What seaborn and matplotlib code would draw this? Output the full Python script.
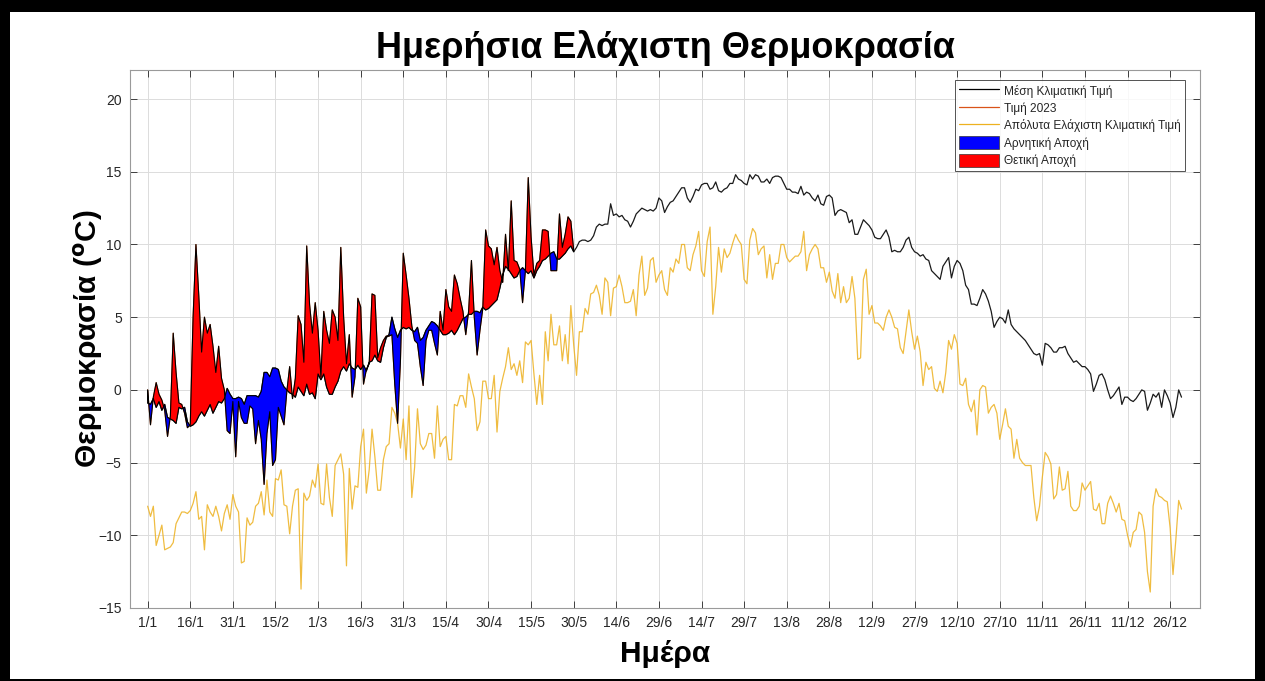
import numpy as np
import pandas as pd
import seaborn as sns
import matplotlib
matplotlib.use('Agg')
import matplotlib.pyplot as plt
from matplotlib.patches import Patch, Rectangle
from matplotlib.lines import Line2D

# climatological mean of daily minimum (day 1..365)
mean_clim = [
    -0.9, -1.0, -0.6, -1.2, -0.8, -1.4, -1.0, -1.9, -2.0, -2.1,
    -2.3, -1.2, -1.3, -1.2, -2.2, -2.5, -2.4, -2.2, -1.8, -1.5,
    -1.8, -1.4, -1.0, -1.6, -1.2, -0.8, -0.9, -0.6, 0.1, -0.3,
    -0.6, -0.6, -0.5, -0.6, -1.0, -0.4, -0.4, -0.4, -0.4, -0.5,
    -0.1, 1.2, 1.2, 0.9, 1.5, 1.5, 1.4, 0.6, 0.2, 0.0,
    -0.2, -0.3, -0.5, 0.2, -0.1, -0.4, 0.4, -0.3, -0.2, -0.6,
    1.1, 0.7, 1.1, 0.2, -0.3, -0.3, 0.2, 0.6, 1.3, 1.6,
    1.3, 1.8, 1.5, 1.4, 1.7, 1.4, 1.7, 1.3, 1.9, 2.0,
    2.4, 2.0, 1.9, 2.9, 3.6, 3.8, 5.0, 4.2, 3.6, 4.1,
    4.3, 4.2, 4.3, 4.1, 4.0, 4.3, 3.4, 3.6, 4.1, 4.4,
    4.7, 4.6, 4.4, 4.1, 3.8, 3.8, 3.9, 4.1, 3.8, 4.1,
    4.5, 4.9, 5.0, 5.2, 5.2, 5.4, 5.4, 5.3, 5.7, 5.5,
    5.6, 5.8, 6.0, 6.2, 7.0, 7.9, 8.5, 8.3, 8.0, 7.7,
    7.8, 8.2, 8.4, 8.2, 8.0, 8.2, 7.7, 8.2, 8.5, 8.9,
    9.0, 9.2, 9.4, 9.5, 9.0, 9.0, 9.2, 9.4, 9.7, 9.9,
    9.5, 9.8, 10.2, 10.3, 10.3, 10.2, 10.3, 10.6, 11.2, 11.4,
    11.3, 11.4, 11.4, 12.8, 12.0, 12.1, 11.9, 12.0, 11.7, 11.6,
    11.2, 11.6, 12.1, 12.3, 12.5, 12.4, 12.3, 12.4, 12.3, 12.5,
    13.2, 13.0, 12.2, 12.6, 12.9, 13.0, 13.3, 13.6, 13.9, 13.9,
    13.2, 12.9, 13.3, 13.8, 13.7, 14.1, 14.2, 14.2, 13.8, 13.9,
    14.3, 13.7, 13.6, 13.8, 13.9, 14.2, 14.2, 14.8, 14.5, 14.4,
    14.2, 14.1, 14.8, 14.5, 14.8, 14.7, 14.3, 14.3, 14.5, 14.2,
    14.6, 14.7, 14.7, 14.6, 14.2, 13.8, 13.8, 13.6, 13.6, 13.5,
    14.0, 13.4, 13.6, 13.5, 13.2, 13.0, 13.4, 12.8, 12.7, 13.3,
    13.4, 13.2, 12.0, 12.3, 12.4, 12.3, 12.2, 11.5, 11.7, 10.7,
    10.7, 11.2, 11.7, 11.5, 11.3, 11.0, 10.5, 10.4, 10.4, 10.7,
    11.0, 10.5, 9.5, 9.6, 9.5, 9.5, 9.8, 10.3, 10.5, 9.8,
    9.5, 9.4, 9.2, 9.3, 9.0, 8.9, 8.2, 8.0, 7.8, 7.6,
    8.5, 8.8, 9.1, 7.7, 8.5, 8.9, 8.7, 8.2, 7.2, 6.9,
    5.9, 5.9, 5.8, 6.3, 6.9, 6.6, 6.1, 5.4, 4.3, 4.7,
    5.0, 4.9, 4.6, 5.5, 4.5, 4.2, 4.0, 3.8, 3.6, 3.4,
    3.1, 2.8, 2.5, 2.4, 2.5, 1.7, 3.2, 3.1, 2.9, 2.6,
    2.6, 2.9, 2.9, 3.0, 2.5, 2.2, 1.9, 2.0, 1.8, 1.6,
    1.6, 1.4, 1.1, -0.1, 0.4, 1.0, 1.1, 0.7, 0.0, -0.6,
    -0.4, -0.1, 0.2, -1.0, -0.5, -0.5, -0.7, -0.8, -0.6, -0.3,
    0.0, -0.1, -1.4, -0.9, -0.3, -0.5, -0.2, -1.2, 0.0, -0.4,
    -0.9, -1.9, -1.2, 0.0, -0.5,
]

# absolute climatological minimum (day 1..365)
abs_min = [
    -8.0, -8.7, -8.0, -10.7, -10.0, -9.3, -11.0, -10.9, -10.8, -10.5,
    -9.2, -8.8, -8.4, -8.4, -8.5, -8.3, -7.8, -7.0, -8.9, -8.7,
    -11.0, -7.9, -8.4, -8.7, -8.0, -8.7, -9.7, -8.5, -7.9, -8.9,
    -7.2, -8.0, -8.4, -11.9, -11.8, -8.8, -9.3, -9.1, -8.0, -7.8,
    -7.0, -8.6, -6.2, -8.4, -8.7, -6.1, -6.2, -5.5, -7.9, -8.0,
    -9.9, -8.0, -6.9, -6.8, -13.7, -7.1, -7.6, -7.3, -6.2, -6.7,
    -5.1, -7.8, -7.9, -5.1, -7.4, -8.7, -5.2, -4.8, -4.4, -5.8,
    -12.1, -5.4, -8.2, -6.6, -6.7, -3.9, -2.7, -7.1, -5.5, -2.7,
    -4.6, -6.9, -6.9, -4.8, -3.9, -3.7, -1.2, -1.6, -2.3, -4.0,
    -2.0, -4.8, -1.1, -7.4, -5.3, -1.3, -3.7, -4.1, -3.8, -3.0,
    -3.0, -4.7, -1.1, -3.9, -3.4, -3.2, -4.8, -4.8, -1.0, -1.1,
    -0.4, -0.4, -1.2, 1.1, 0.2, -0.6, -2.8, -2.2, 0.6, 0.6,
    -0.6, -0.6, 1.0, -2.9, -0.1, 0.8, 1.6, 2.9, 1.4, 1.8,
    1.0, 2.0, 0.5, 3.3, 3.1, 3.4, 1.1, -1.0, 1.0, -1.0,
    4.0, 2.0, 5.2, 3.1, 3.1, 4.4, 2.0, 3.8, 1.8, 5.8,
    3.1, 1.0, 4.0, 4.0, 5.6, 5.2, 6.6, 6.7, 7.2, 6.5,
    5.2, 7.7, 7.4, 5.1, 7.0, 7.1, 7.9, 7.1, 6.0, 6.0,
    6.1, 6.9, 5.1, 7.9, 9.2, 6.5, 7.0, 8.9, 9.1, 7.4,
    7.9, 8.2, 6.9, 6.5, 8.4, 8.1, 9.0, 8.7, 10.0, 10.0,
    8.4, 8.2, 9.3, 9.9, 10.9, 8.2, 7.8, 10.2, 11.2, 5.2,
    7.1, 9.8, 8.1, 9.7, 9.1, 9.4, 10.1, 10.7, 10.3, 10.0,
    7.6, 7.3, 10.3, 11.1, 10.8, 9.3, 9.7, 9.9, 7.7, 9.3,
    7.6, 8.7, 8.7, 10.0, 10.0, 9.1, 8.8, 9.0, 9.2, 9.2,
    9.5, 10.9, 8.2, 9.3, 9.7, 10.0, 9.7, 8.4, 8.4, 7.4,
    8.1, 6.8, 6.3, 8.0, 6.0, 7.1, 6.0, 6.3, 7.8, 6.3,
    2.1, 2.2, 7.6, 8.3, 5.2, 5.8, 4.6, 4.6, 4.4, 4.1,
    5.0, 5.5, 5.0, 4.3, 4.2, 2.9, 2.5, 4.0, 5.5, 4.0,
    2.8, 3.7, 2.6, 0.3, 1.9, 1.4, 1.6, 0.1, -0.1, 0.6,
    -0.2, 1.2, 3.4, 2.8, 3.8, 3.2, 0.4, 0.3, 0.8, -1.0,
    -1.5, -0.7, -3.1, 0.0, 0.3, 0.2, -1.6, -1.2, -1.0, -1.6,
    -3.4, -2.4, -1.3, -2.5, -2.7, -4.7, -3.4, -4.7, -5.0, -5.2,
    -5.2, -5.2, -7.4, -9.0, -8.0, -6.0, -4.3, -4.6, -5.1, -7.5,
    -7.2, -5.3, -6.9, -6.8, -5.6, -8.0, -8.3, -8.3, -8.0, -6.4,
    -6.9, -6.6, -6.3, -8.2, -8.3, -7.8, -9.2, -9.2, -7.8, -7.3,
    -7.8, -8.4, -7.8, -8.9, -9.0, -10.0, -10.8, -9.8, -9.6, -8.4,
    -8.6, -9.8, -12.5, -13.9, -8.0, -6.8, -7.3, -7.4, -7.6, -7.7,
    -9.5, -12.7, -10.3, -7.6, -8.2,
]

# 2023 daily minimum (1/1 .. 31/5)
t2023 = [
    0.0, -2.4, -0.5, 0.5, -0.3, -0.7, -1.4, -3.2, -1.8, 3.9,
    1.2, -0.9, -1.0, -1.6, -2.6, -2.4, 5.0, 10.0, 6.5, 2.6,
    5.0, 3.9, 4.5, 3.0, 1.2, 3.0, 0.8, 0.0, -2.8, -3.0,
    -0.8, -4.6, -0.8, -1.9, -2.3, -2.3, -1.1, -1.3, -3.7, -2.1,
    -3.4, -6.5, -3.0, -1.5, -5.2, -4.8, -1.2, -1.8, -2.4, -0.1,
    1.6, -0.6, 0.8, 5.1, 4.5, 1.9, 9.9, 5.9, 3.9, 6.0,
    4.1, 0.9, 5.4, 4.1, 3.2, 5.5, 5.0, 3.4, 9.8, 5.0,
    1.8, 3.8, -0.5, 0.9, 6.3, 5.7, 0.4, 1.4, 1.8, 6.6,
    6.5, 2.2, 2.9, 3.4, 3.7, 3.7, 3.8, 0.4, -2.3, 2.0,
    9.4, 7.9, 6.3, 4.4, 3.4, 3.2, 1.6, 0.3, 3.4, 4.1,
    4.1, 3.2, 2.4, 5.4, 4.1, 6.9, 5.7, 5.4, 7.9, 7.3,
    6.3, 5.4, 3.8, 5.4, 8.9, 5.0, 2.4, 4.1, 5.6, 11.0,
    9.9, 9.7, 8.6, 9.8, 8.2, 7.4, 10.7, 8.2, 13.0, 8.9,
    8.8, 8.3, 6.0, 8.2, 14.6, 10.5, 7.9, 8.7, 8.9, 11.0,
    11.0, 10.9, 8.2, 8.2, 8.2, 12.1, 9.8, 10.7, 11.9, 11.6,
    9.6,
]

tick_days = [1, 16, 31, 46, 61, 76, 91, 106, 121, 136, 151, 166, 181,
             196, 211, 226, 241, 256, 271, 286, 301, 316, 331, 346, 361]
tick_labels = ['1/1', '16/1', '31/1', '15/2', '1/3', '16/3', '31/3', '15/4',
               '30/4', '15/5', '30/5', '14/6', '29/6', '14/7', '29/7', '13/8',
               '28/8', '12/9', '27/9', '12/10', '27/10', '11/11', '26/11',
               '11/12', '26/12']

assert len(mean_clim) == 365 and len(abs_min) == 365 and len(t2023) == 151

days = np.arange(1, 366)
clim = pd.DataFrame({'day': days, 'mean': mean_clim, 'absmin': abs_min})
y23 = pd.DataFrame({'day': days[:len(t2023)], 'val': t2023})

sns.set_theme(style='ticks')
plt.rcParams['font.family'] = ['Liberation Sans', 'DejaVu Sans']

fig = plt.figure(figsize=(12.65, 6.81), dpi=100)
fig.patch.set_facecolor('white')
ax = fig.add_axes([0.1028, 0.1072, 0.8458, 0.790])

sns.lineplot(data=clim, x='day', y='absmin', color='#EDB120', lw=0.9,
             alpha=0.85, errorbar=None, ax=ax)
sns.lineplot(data=clim, x='day', y='mean', color='#1a1a1a', lw=0.9,
             errorbar=None, ax=ax)
sns.lineplot(data=y23, x='day', y='val', color='#D95319', lw=0.8,
             errorbar=None, ax=ax)

d = y23['day'].to_numpy()
t = y23['val'].to_numpy()
m = clim['mean'].to_numpy()[:len(t)]
ax.fill_between(d, t, m, where=t < m, interpolate=True, facecolor='blue',
                edgecolor='black', lw=0.8, zorder=3)
ax.fill_between(d, t, m, where=t >= m, interpolate=True, facecolor='red',
                edgecolor='black', lw=0.8, zorder=3)

ax.set_xlim(-5.2, 371.5)
ax.set_ylim(-15, 22)
ax.set_xticks(tick_days)
ax.set_xticklabels(tick_labels)
ax.set_yticks(range(-15, 21, 5))
ax.tick_params(direction='in', length=5, width=0.6, colors='#262626',
               labelsize=10, top=True, right=True, pad=6)
ax.grid(True, color='#dcdcdc', lw=0.7)
for s in ax.spines.values():
    s.set_color('#9a9a9a')
    s.set_linewidth(0.8)

ax.set_title('Ημερήσια Ελάχιστη Θερμοκρασία', fontsize=26, fontweight='bold',
             color='black', pad=9)
ax.set_xlabel('Ημέρα', fontsize=21.5, fontweight='bold', color='black',
              labelpad=7)
ax.set_ylabel(r'Θερμοκρασία ($\mathbf{^o}$C)', fontsize=21.5,
              fontweight='bold', color='black')
ax.yaxis.set_label_coords(-0.023, 0.5)

handles = [Line2D([], [], color='black', lw=0.9),
           Line2D([], [], color='#D95319', lw=0.9),
           Line2D([], [], color='#EDB120', lw=0.9),
           Patch(facecolor='blue', edgecolor='#333333', lw=0.5),
           Patch(facecolor='red', edgecolor='#333333', lw=0.5)]
labels = ['Μέση Κλιματική Τιμή', 'Τιμή 2023',
          'Απόλυτα Ελάχιστη Κλιματική Τιμή', 'Αρνητική Αποχή', 'Θετική Αποχή']
leg = ax.legend(handles, labels, loc='upper right',
                bbox_to_anchor=(0.9915, 0.9925), fontsize=8.6, fancybox=False,
                frameon=True, handlelength=3.3, handleheight=1.3,
                labelspacing=0.32, borderpad=0.35, handletextpad=0.45)
leg.get_frame().set_edgecolor('#262626')
leg.get_frame().set_linewidth(0.7)

# dark window frame around the figure
W, H = 1265, 681
for (x0, y0, w, h) in [(0, H - 12, W, 12), (0, 0, 10, H),
                       (W - 10, 0, 10, H), (0, 0, W, 2)]:
    fig.patches.append(Rectangle((x0 / W, y0 / H), w / W, h / H,
                                 transform=fig.transFigure,
                                 facecolor='black', edgecolor='none'))

fig.savefig('out.png', dpi=100)
